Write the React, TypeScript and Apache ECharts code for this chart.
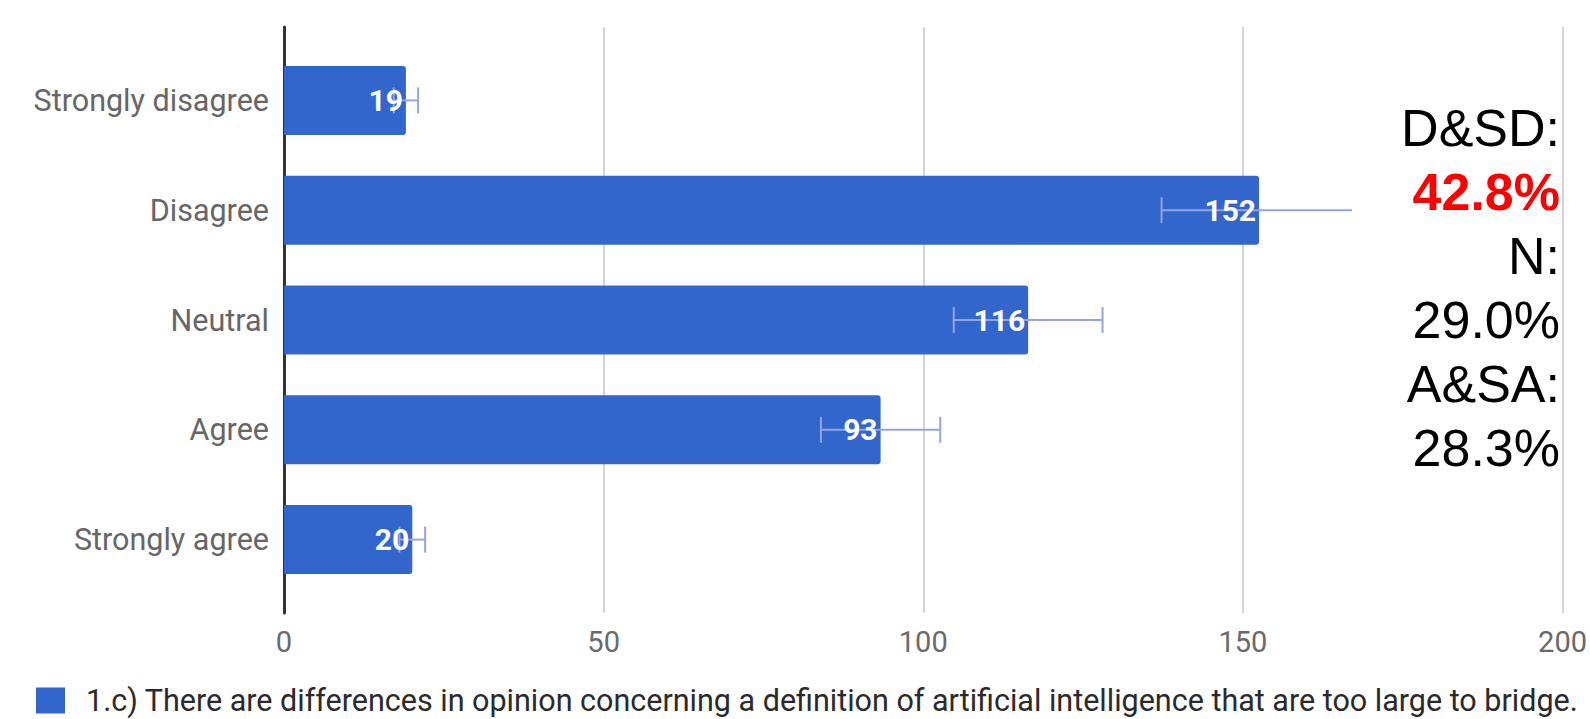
import React, { useEffect, useRef } from "react";
import * as echarts from "echarts";

const categories = ["Strongly disagree", "Disagree", "Neutral", "Agree", "Strongly agree"];
const counts = [19, 152, 116, 93, 20];
const errLow = [17.1, 136.8, 104.4, 83.7, 18.0];
const errHigh = [20.9, 167.2, 127.6, 102.3, 22.0];
const xTicks = [0, 50, 100, 150, 200];
const seriesName =
  "1.c) There are differences in opinion concerning a definition of artificial intelligence that are too large to bridge.";
const sideLines = ["D&SD:", "42.8%", "N:", "29.0%", "A&SA:", "28.3%"];
const sideHighlight = [false, true, false, false, false, false];

const BLUE = "#3366cc";
const FONT = "Roboto, Arial, sans-serif";

export default function App() {
  const ref = useRef<HTMLDivElement>(null);

  useEffect(() => {
    if (!ref.current) return;
    const chart = echarts.init(ref.current, undefined, { renderer: "svg" });

    const errData = categories.map((_, i) => [errLow[i], errHigh[i], i]);

    const option: any = {
      animation: false,
      backgroundColor: "#ffffff",
      grid: [
        { left: 284, right: 23, top: 27, bottom: 106, containLabel: false },
        { left: 284, right: 23, top: 45.5, bottom: 124.5, containLabel: false },
      ],
      xAxis: [
        {
          type: "value",
          gridIndex: 0,
          min: xTicks[0],
          max: xTicks[xTicks.length - 1],
          interval: 50,
          axisLine: { show: false },
          axisTick: { show: false },
          splitLine: { show: true, lineStyle: { color: "#d4d4d4", width: 2 } },
          axisLabel: {
            show: true,
            margin: 14,
            color: "#6a6a6a",
            fontFamily: FONT,
            fontSize: 29,
          },
        },
        {
          type: "value",
          gridIndex: 1,
          min: xTicks[0],
          max: xTicks[xTicks.length - 1],
          show: false,
        },
      ],
      yAxis: [
        {
          type: "value",
          gridIndex: 0,
          min: 0,
          max: 1,
          axisLine: { show: true, onZero: false, lineStyle: { color: "#333333", width: 3 } },
          axisTick: { show: false },
          axisLabel: { show: false },
          splitLine: { show: false },
        },
        {
          type: "category",
          gridIndex: 1,
          data: categories,
          inverse: true,
          axisLine: { show: false },
          axisTick: { show: false },
          splitLine: { show: false },
          axisLabel: {
            margin: 15,
            color: "#666666",
            fontFamily: FONT,
            fontSize: 30.5,
          },
        },
      ],
      legend: {
        show: true,
        data: [seriesName],
        left: 31,
        top: 680,
        icon: "rect",
        itemWidth: 29,
        itemHeight: 26,
        textStyle: {
          color: "#2a2a2a",
          fontFamily: FONT,
          fontSize: 30.5,
          padding: [0, 0, 0, 16],
        },
        selectedMode: false,
      },
      series: [
        {
          name: seriesName,
          type: "bar",
          xAxisIndex: 1,
          yAxisIndex: 1,
          data: counts,
          barWidth: 69,
          itemStyle: { color: BLUE, borderRadius: [0, 3, 3, 0] },
          z: 2,
        },
        {
          type: "custom",
          xAxisIndex: 1,
          yAxisIndex: 1,
          data: errData,
          encode: { x: [0, 1], y: 2 },
          z: 3,
          renderItem: (params: any, api: any) => {
            const lo = api.coord([api.value(0), api.value(2)]);
            const hi = api.coord([api.value(1), api.value(2)]);
            const h = 13;
            const style = { stroke: "#93a4e6", lineWidth: 2 };
            return {
              type: "group",
              children: [
                { type: "line", shape: { x1: lo[0], y1: lo[1], x2: hi[0], y2: hi[1] }, style },
                { type: "line", shape: { x1: lo[0], y1: lo[1] - h, x2: lo[0], y2: lo[1] + h }, style },
                { type: "line", shape: { x1: hi[0], y1: hi[1] - h, x2: hi[0], y2: hi[1] + h }, style },
              ],
            };
          },
        },
        {
          type: "bar",
          xAxisIndex: 1,
          yAxisIndex: 1,
          data: counts,
          barWidth: 69,
          barGap: "-100%",
          itemStyle: { color: "rgba(0,0,0,0)" },
          z: 4,
          label: {
            show: true,
            position: "insideRight",
            distance: 3,
            color: "#ffffff",
            fontFamily: FONT,
            fontWeight: "bold",
            fontSize: 30,
          },
        },
      ],
      graphic: [
        {
          type: "rect",
          z: 100,
          shape: { x: 1352, y: 95, width: 196, height: 390 },
          style: { fill: "#ffffff" },
        },
        ...sideLines.map((t, i) => ({
          type: "text",
          z: 101,
          x: 1560,
          y: 128 + i * 64,
          style: {
            text: t,
            align: "right",
            verticalAlign: "middle",
            fontFamily: "'Liberation Sans', Arial, sans-serif",
            fontSize: 52,
            fontWeight: sideHighlight[i] ? "bold" : "normal",
            fill: sideHighlight[i] ? "#ff0000" : "#000000",
          },
        })),
      ],
    };

    chart.setOption(option);
    return () => chart.dispose();
  }, []);

  return (
    <div
      ref={ref}
      style={{ position: "fixed", left: 0, top: 0, width: 1590, height: 719, background: "#fff" }}
    />
  );
}
